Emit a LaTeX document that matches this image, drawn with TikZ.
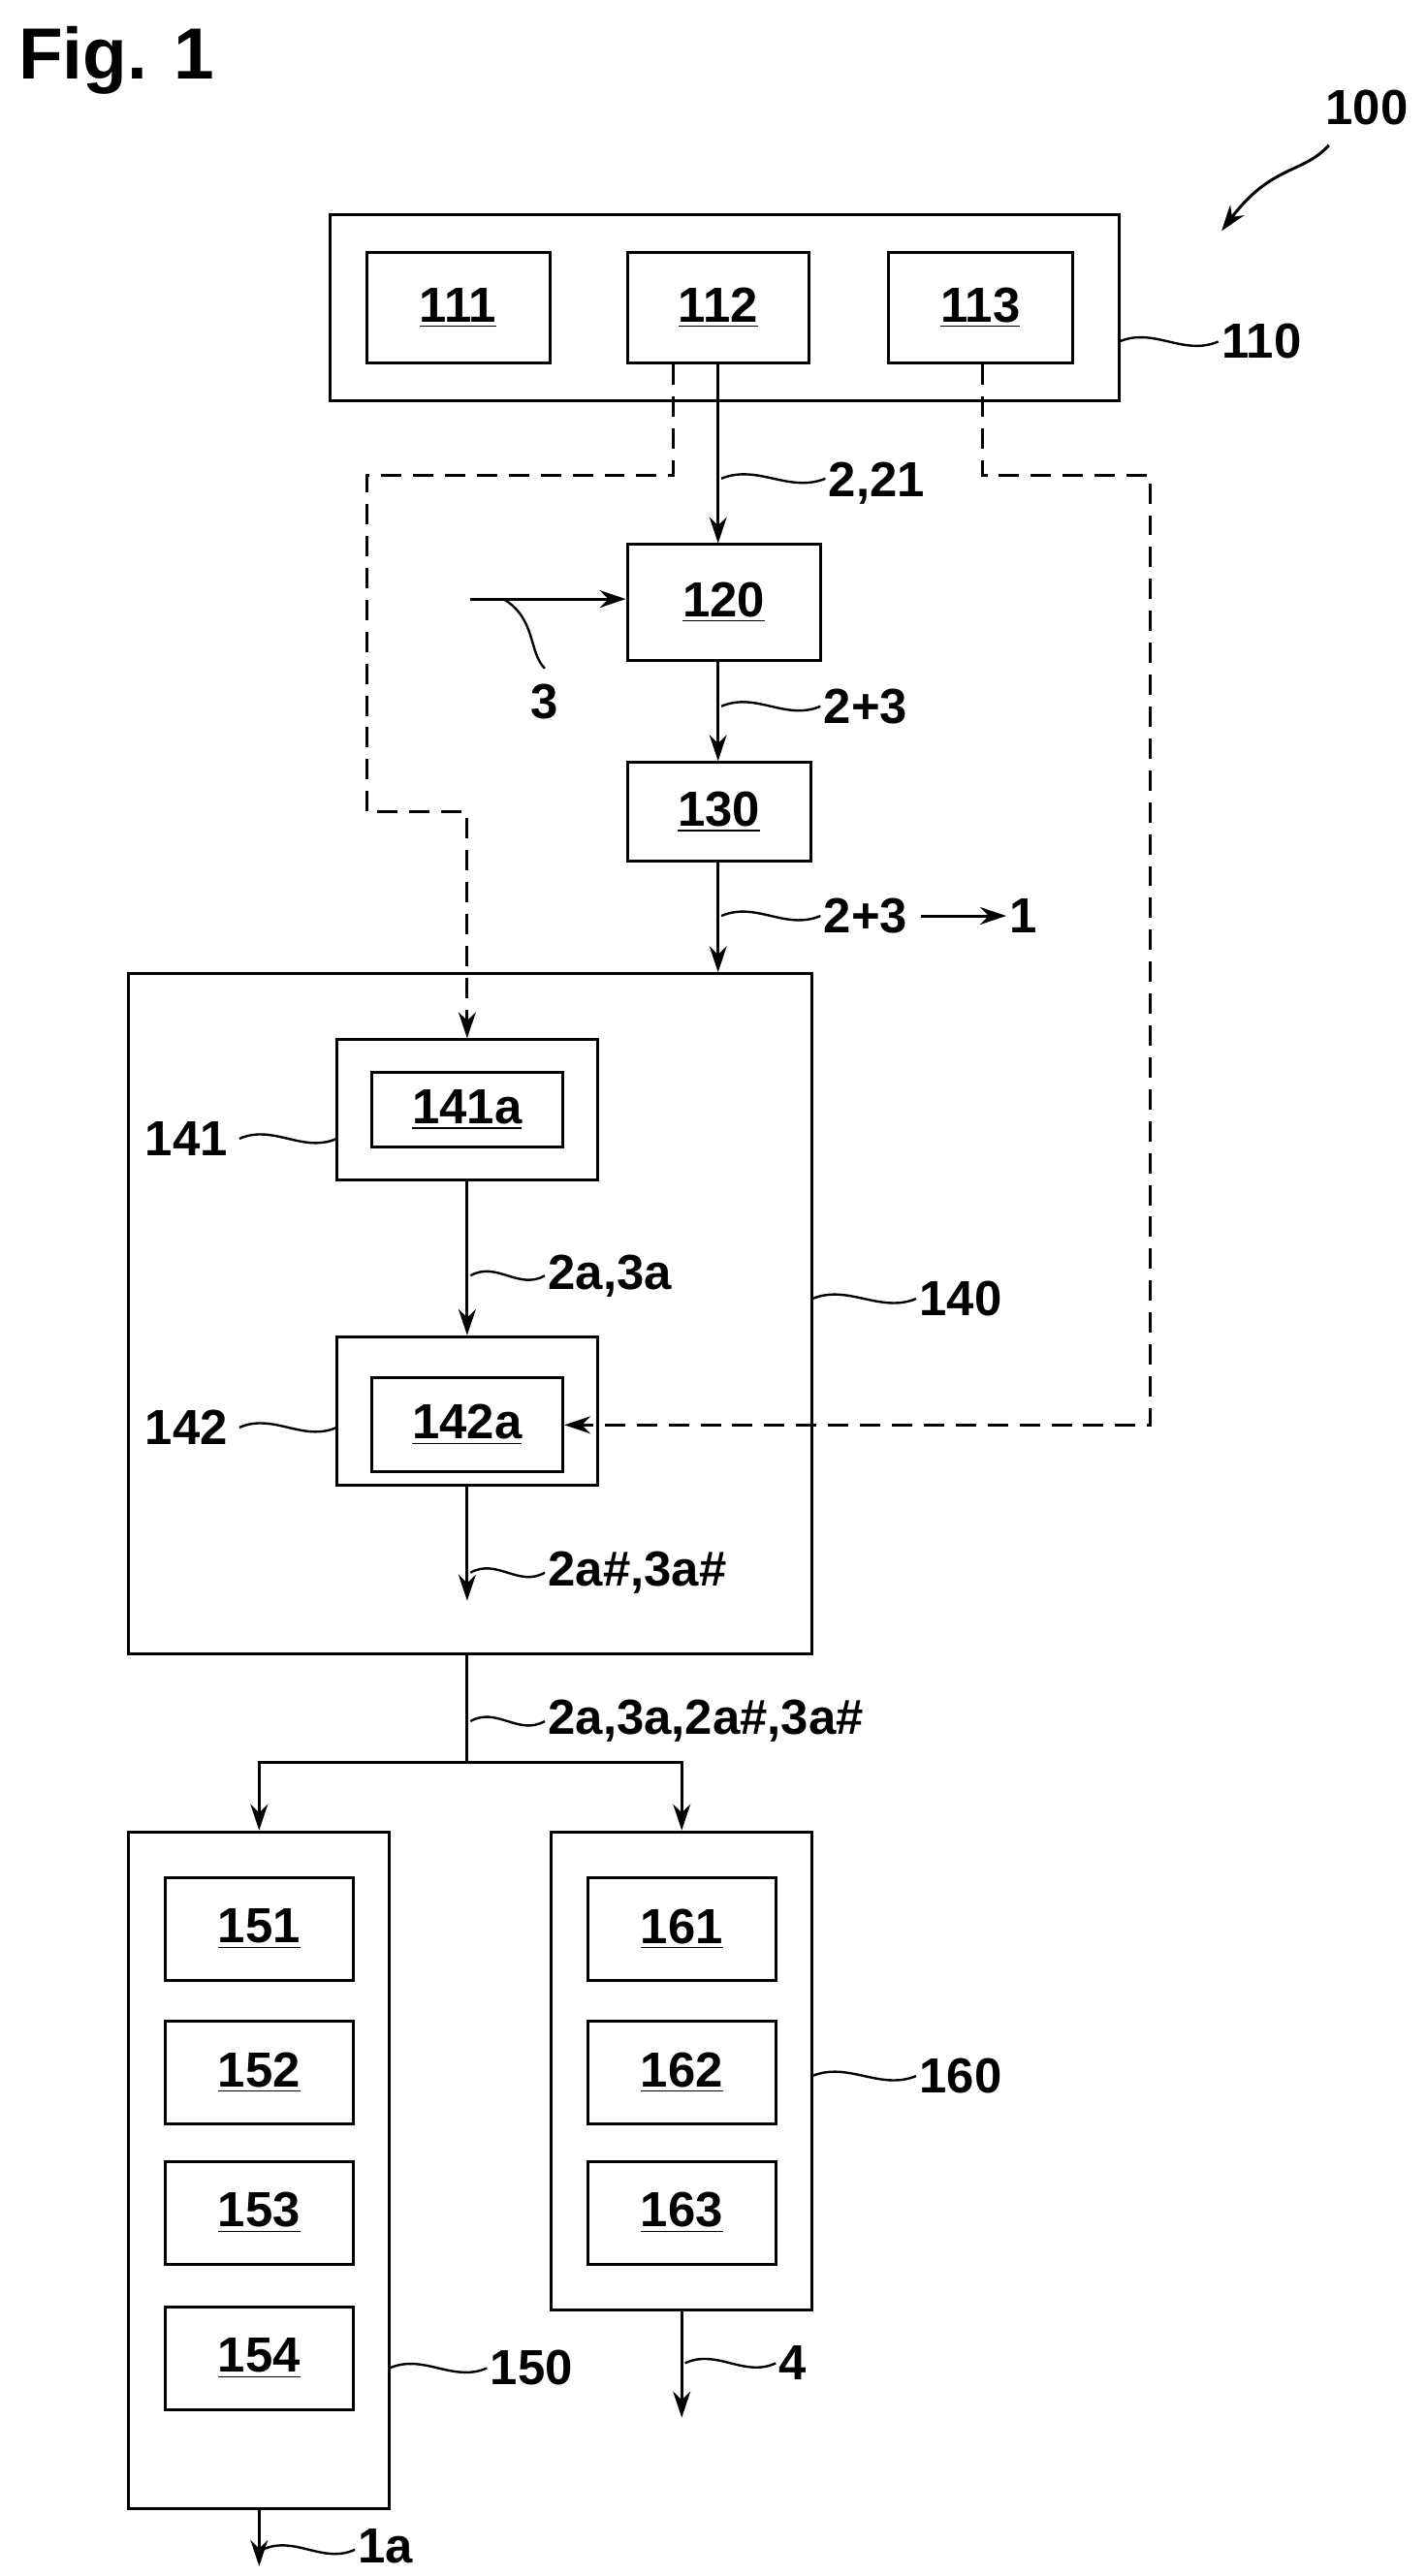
\documentclass[tikz,border=0pt]{standalone}
\usepackage{fontspec}
\setmainfont{Liberation Sans}
\usetikzlibrary{arrows.meta}
\newcommand{\bx}[6]{\node[box,minimum width={(#4-#2)*0.02cm},minimum height={(#5-#3)*0.02cm}] (#1) at ({(#2+#4)/2},{(#3+#5)/2}) {#6};}
\newcommand{\wv}[3]{\draw[lead] (#1,#3) .. controls ({#1+0.35*(#2-#1)},{#3-9}) and ({#1+0.65*(#2-#1)},{#3+9}) .. (#2,#3);}
\begin{document}
\begin{tikzpicture}[x=0.02cm,y=-0.02cm,
  box/.style={draw,line width=1pt,inner sep=0pt},
  lead/.style={line width=0.8pt},
  con/.style={line width=1pt,-{Stealth[length=9pt,width=6pt]}},
  dcon/.style={con,dash pattern=on 7pt off 4pt},
  lab/.style={font=\fontsize{17}{20}\selectfont\bfseries,inner sep=1pt},
  every node/.append style={font=\fontsize{17}{20}\selectfont\bfseries}]
\useasboundingbox (0,0) rectangle (864,1561);
\node[anchor=north west,font=\fontsize{25}{30}\selectfont\bfseries] (fig) at (5,10) {Fig. 1};
% 100
\node[lab] (l100) at (828,65) {100};
\coordinate (a100) at (740,140);
\draw[con] (805,88) .. controls (790,105) and (770,100) .. (a100);
% 110
\bx{b110}{200}{130}{678}{243}{}
\bx{b111}{222}{153}{333}{220}{\underline{111}}
\bx{b112}{380}{153}{490}{220}{\underline{112}}
\bx{b113}{538}{153}{650}{220}{\underline{113}}
\wv{678}{738}{207}\node[lab,anchor=west] (l110) at (738,207) {110};
% 120,130
\bx{b120}{380}{330}{497}{400}{\underline{120}}
\bx{b130}{380}{462}{491}{522}{\underline{130}}
\bx{b140}{78}{590}{492}{1002}{}
\draw[con] (b112.south -| 435,0) -- (b120.north -| 435,0);
\wv{437}{500}{290}\node[lab,anchor=west] (l221) at (500,293) {2,21};
\coordinate (in3) at (285,363);
\draw[con] (in3) -- (b120.west |- in3);
\draw[lead] (305,363) .. controls (325,375) and (320,395) .. (330,405);
\node[lab] (l3) at (330,425) {3};
\draw[con] (b120.south -| 435,0) -- (b130.north -| 435,0);
\wv{437}{497}{428}\node[lab,anchor=west] (l23) at (497,428) {2+3};
\draw[con] (b130.south -| 435,0) -- (b140.north -| 435,0);
\wv{437}{497}{555}\node[lab,anchor=west] (l23b) at (497,555) {2+3};
\node[lab] (l1) at (620,555) {1};
\draw[con] (l23b.east)+(6,0) -- (l1.west);
% 140
\bx{b141}{204}{630}{362}{715}{}
\bx{b141a}{225}{650}{341}{695}{\underline{141a}}
\bx{b142}{204}{810}{362}{900}{}
\bx{b142a}{225}{835}{341}{892}{\underline{142a}}
\node[lab,anchor=east] (l141) at (140,690) {141};\wv{145}{204}{690}
\node[lab,anchor=east] (l142) at (140,865) {142};\wv{145}{204}{865}
\wv{492}{555}{787}\node[lab,anchor=west] (l140) at (555,787) {140};
\draw[con] (b141.south) -- (b142.north);
\coordinate (e142) at (283,970);
\draw[con] (b142.south) -- (e142);
\wv{285}{330}{773}\node[lab,anchor=west] (l2a) at (330,773) {2a,3a};
\wv{285}{330}{953}\node[lab,anchor=west] (l2ah) at (330,953) {2a\#,3a\#};
% dashed
\draw[dcon] (b112.south -| 408,0) -- (408,288) -- (222,288) -- (222,492) -- (283,492) -- (b141.north);
\draw[dcon] (b113.south -| 595,0) -- (595,288) -- (697,288) |- (b142a.east);
% split
\bx{b150}{78}{1110}{236}{1520}{}
\bx{b160}{334}{1110}{492}{1400}{}
\coordinate (sp) at (283,1068);
\draw[line width=1pt] (b140.south -| sp) -- (sp);
\draw[con] (sp) -| (b150.north);
\draw[con] (sp) -| (b160.north);
\wv{285}{330}{1043}\node[lab,anchor=west] (lall) at (330,1043) {2a,3a,2a\#,3a\#};
\bx{b151}{100}{1138}{214}{1200}{\underline{151}}
\bx{b152}{100}{1225}{214}{1287}{\underline{152}}
\bx{b153}{100}{1310}{214}{1372}{\underline{153}}
\bx{b154}{100}{1398}{214}{1460}{\underline{154}}
\bx{b161}{356}{1138}{470}{1200}{\underline{161}}
\bx{b162}{356}{1225}{470}{1287}{\underline{162}}
\bx{b163}{356}{1310}{470}{1372}{\underline{163}}
\wv{236}{295}{1435}\node[lab,anchor=west] (l150) at (295,1435) {150};
\wv{492}{555}{1258}\node[lab,anchor=west] (l160) at (555,1258) {160};
\coordinate (e150) at (157,1555);
\draw[con] (b150.south) -- (e150);
\wv{159}{215}{1545}\node[lab,anchor=west] (l1a) at (215,1543) {1a};
\coordinate (e160) at (413,1465);
\draw[con] (b160.south) -- (e160);
\wv{415}{470}{1432}\node[lab,anchor=west] (l4) at (470,1432) {4};
\end{tikzpicture}
\end{document}
